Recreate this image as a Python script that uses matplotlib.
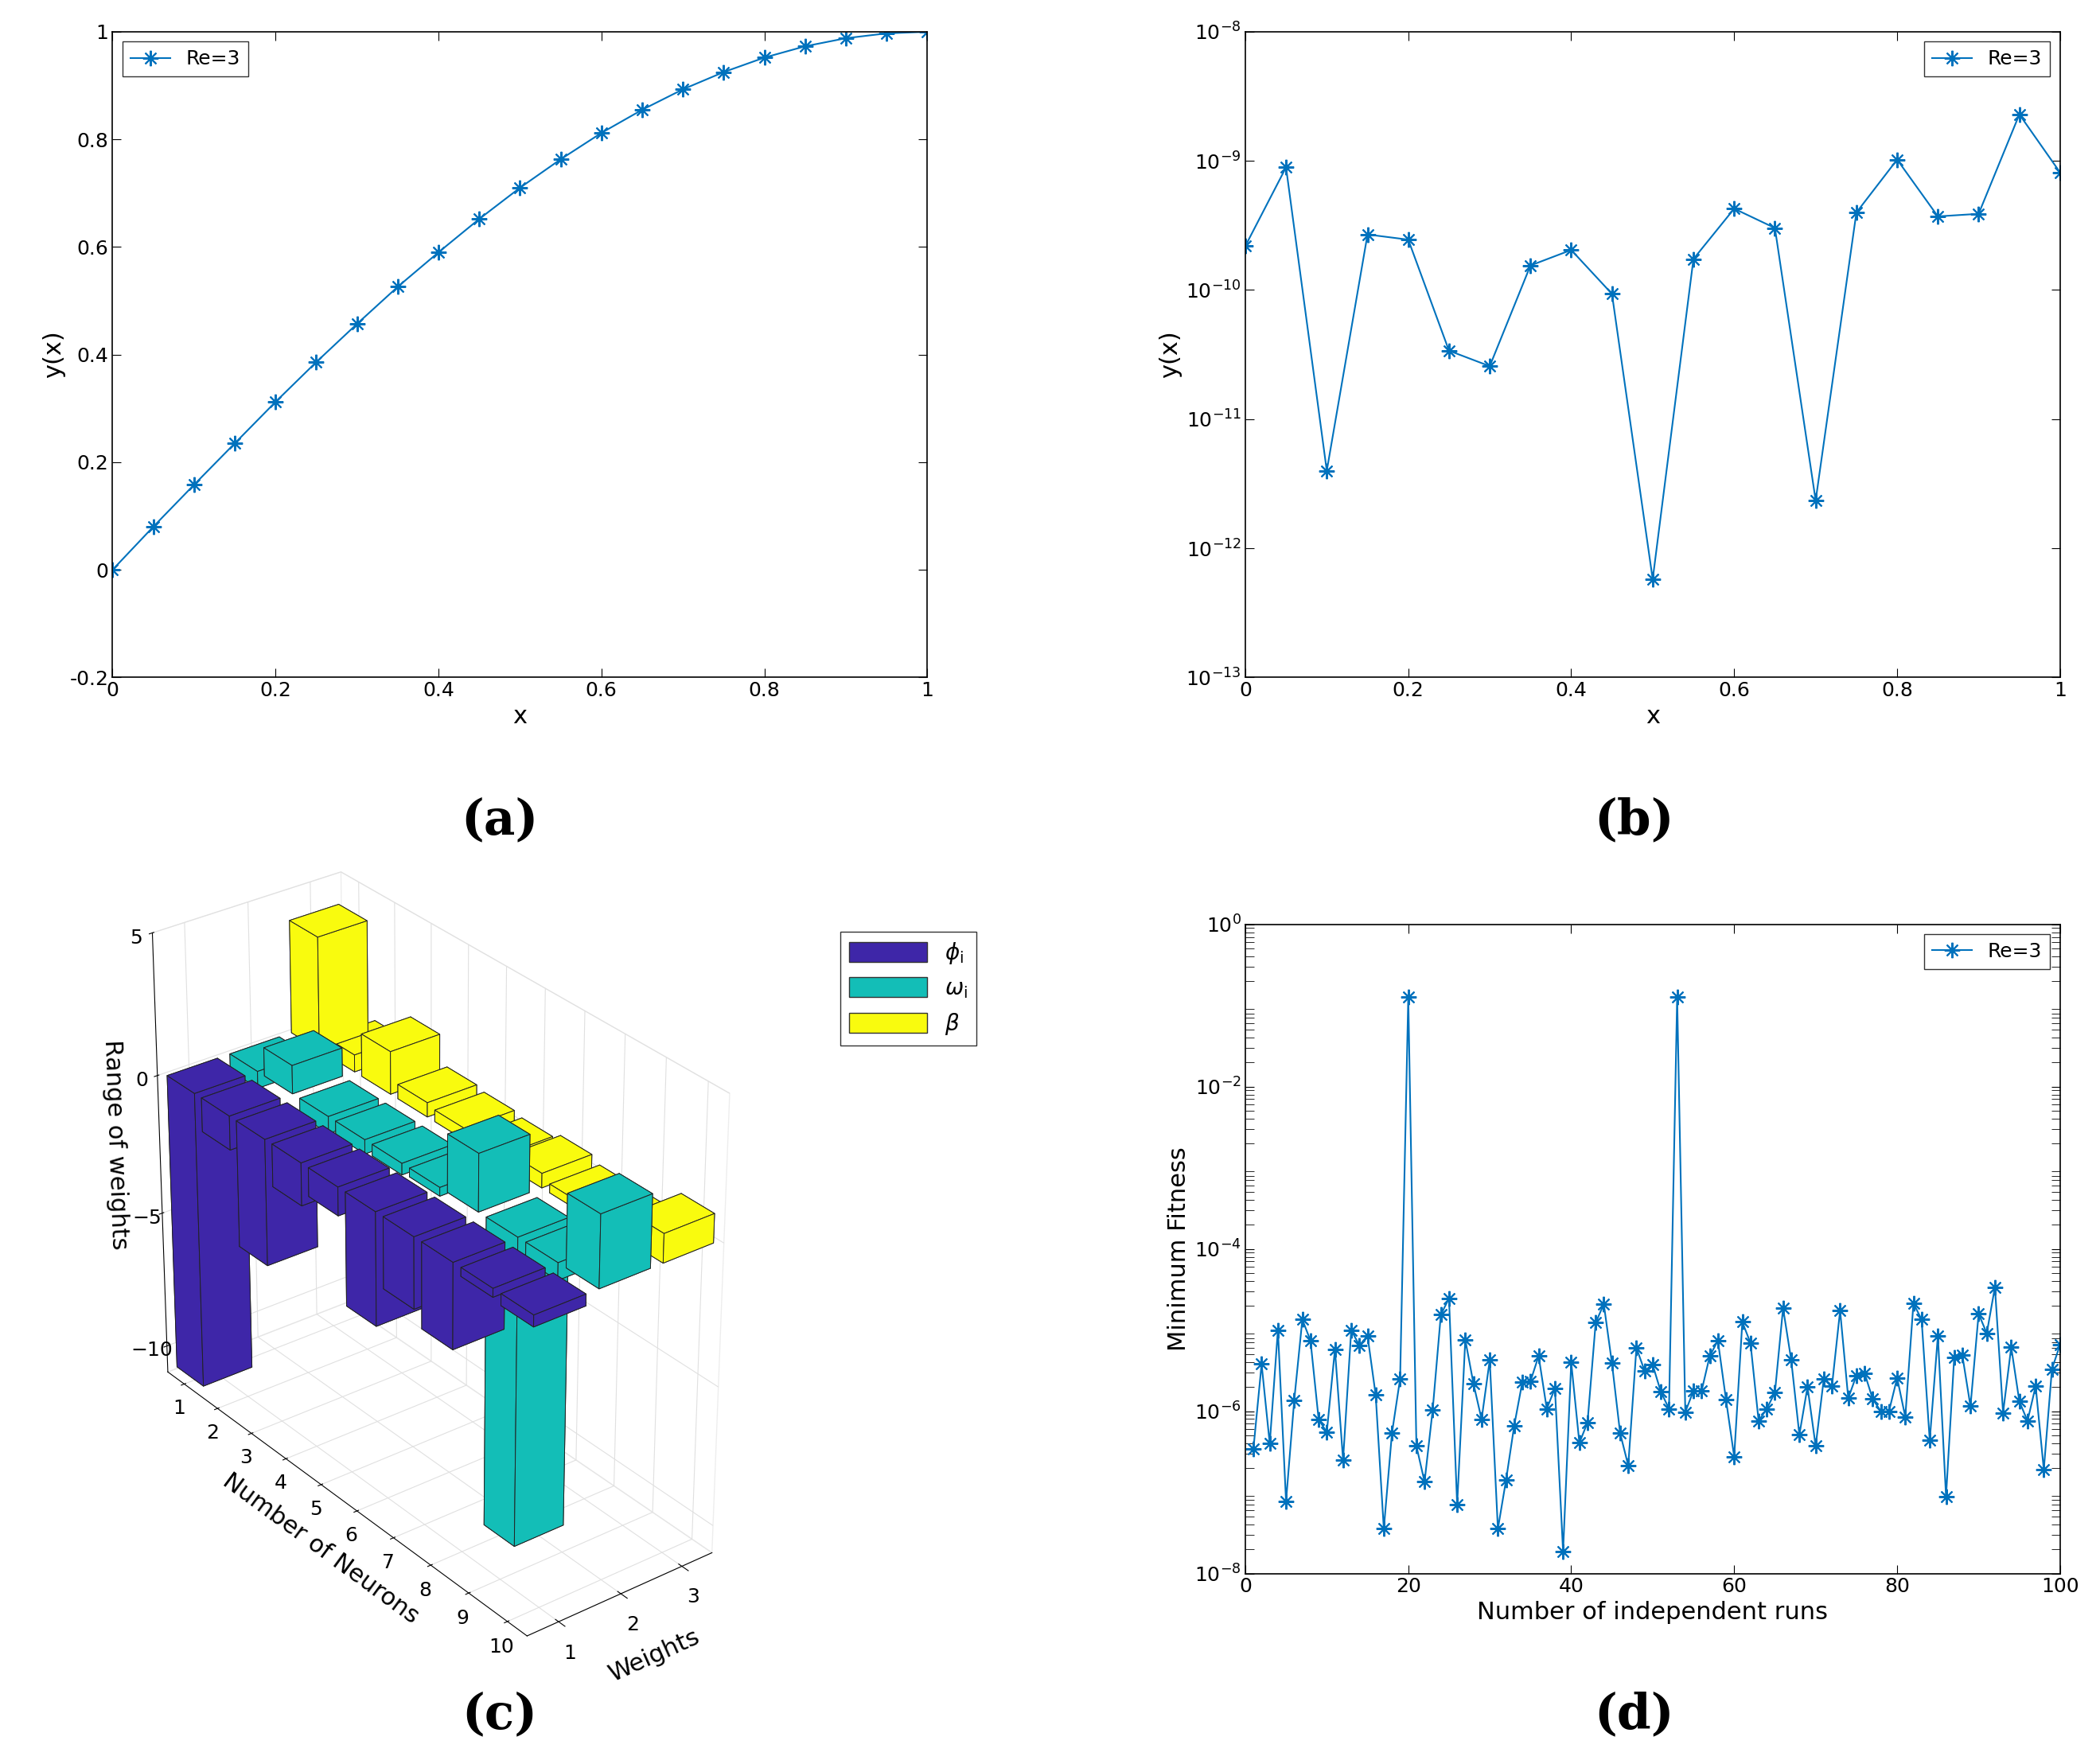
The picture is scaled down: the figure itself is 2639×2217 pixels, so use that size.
import matplotlib
matplotlib.use("Agg")
import matplotlib.pyplot as plt
import numpy as np
from matplotlib.patches import Patch

# ---------- data ----------
xa = [0, 0.05, 0.1, 0.15, 0.2, 0.25, 0.3, 0.35, 0.4, 0.45, 0.5, 0.55, 0.6, 0.65, 0.7, 0.75, 0.8, 0.85, 0.9, 0.95, 1.0]
ya = [0, 0.08, 0.158, 0.235, 0.312, 0.386, 0.457, 0.526, 0.59, 0.652, 0.71, 0.763, 0.812, 0.855, 0.893, 0.925, 0.952, 0.973, 0.988, 0.997, 1.0]
logb = [-9.66, -9.05, -11.4, -9.57, -9.61, -10.47, -10.59, -9.81, -9.69, -10.03, -12.24, -9.76, -9.37, -9.52, -11.63,
        -9.40, -8.99, -9.43, -9.41, -8.64, -9.09]
runs = list(range(1, 101))
logd = [-6.46, -5.42, -6.40, -5.00, -7.11, -5.87, -4.87, -5.13, -6.10, -6.26,
        -5.24, -6.60, -5.00, -5.19, -5.07, -5.80, -7.45, -6.27, -5.60, -0.90,
        -6.43, -6.87, -5.98, -4.81, -4.61, -7.15, -5.12, -5.66, -6.10, -5.37,
        -7.45, -6.85, -6.18, -5.64, -5.63, -5.32, -5.97, -5.72, -7.73, -5.40,
        -6.39, -6.14, -4.91, -4.68, -5.41, -6.27, -6.67, -5.22, -5.50, -5.43,
        -5.76, -5.97, -0.90, -6.01, -5.75, -5.75, -5.32, -5.13, -5.86, -6.56,
        -4.90, -5.16, -6.12, -5.97, -5.77, -4.73, -5.37, -6.29, -5.70, -6.43,
        -5.60, -5.69, -4.76, -5.84, -5.56, -5.53, -5.85, -6.00, -6.00, -5.59,
        -6.07, -4.67, -4.87, -6.36, -5.07, -7.05, -5.34, -5.31, -5.94, -4.80,
        -5.04, -4.47, -6.02, -5.21, -5.88, -6.12, -5.69, -6.72, -5.48, -5.18]
neurons = list(range(1, 11))
phi = [-10.8, -1.2, -4.5, -1.5, -1.0, -4.0, -2.5, -3.0, -0.3, -0.4]
omega = [-0.6, 1.0, -0.6, -0.5, -0.4, -0.3, 2.0, -11.0, -0.6, 2.5]
beta = [4.0, 0.6, 1.5, 0.5, 0.4, 0.3, 0.5, 0.3, 0.3, 1.0]

blue = "#0072BD"
fs = 18
ast = (8, 2, 0)
fig = plt.figure(figsize=(26.39, 22.17), dpi=100)

def style(ax):
    ax.tick_params(direction="in", labelsize=fs, length=8, top=True, right=True, which="both")
    for s in ax.spines.values():
        s.set_linewidth(1.2)

# (a)
ax = fig.add_axes([0.0536, 0.616, 0.388, 0.366])
ax.plot(xa, ya, "-", marker=ast, color=blue, lw=1.5, ms=14, mew=1.5, label="Re=3")
ax.set_xlim(0, 1); ax.set_ylim(-0.2, 1)
ax.set_xticks([0, 0.2, 0.4, 0.6, 0.8, 1]); ax.set_xticklabels(["0", "0.2", "0.4", "0.6", "0.8", "1"])
ax.set_yticks([-0.2, 0, 0.2, 0.4, 0.6, 0.8, 1]); ax.set_yticklabels(["-0.2", "0", "0.2", "0.4", "0.6", "0.8", "1"])
ax.set_xlabel("x", fontsize=fs + 4); ax.set_ylabel("y(x)", fontsize=fs + 4)
ax.legend(loc="upper left", fontsize=fs, fancybox=False, edgecolor="k")
style(ax)

# (b)
ax = fig.add_axes([0.593, 0.616, 0.388, 0.366])
ax.semilogy(xa, [10 ** v for v in logb], "-", marker=ast, color=blue, lw=1.5, ms=14, mew=1.5, label="Re=3")
ax.set_xlim(0, 1); ax.set_ylim(1e-13, 1e-8)
ax.set_xticks([0, 0.2, 0.4, 0.6, 0.8, 1]); ax.set_xticklabels(["0", "0.2", "0.4", "0.6", "0.8", "1"])
ax.set_xlabel("x", fontsize=fs + 4); ax.set_ylabel("y(x)", fontsize=fs + 4)
ax.legend(loc="upper right", fontsize=fs, fancybox=False, edgecolor="k")
ax.minorticks_off()
style(ax)

# (d)
ax = fig.add_axes([0.593, 0.108, 0.388, 0.368])
ax.semilogy(runs, [10 ** v for v in logd], "-", marker=ast, color=blue, lw=1.5, ms=14, mew=1.5, label="Re=3")
ax.set_xlim(0, 100); ax.set_ylim(1e-8, 1)
ax.set_yticks([1e-8, 1e-6, 1e-4, 1e-2, 1])
ax.set_xlabel("Number of independent runs", fontsize=fs + 4); ax.set_ylabel("Minimum Fitness", fontsize=fs + 4)
ax.legend(loc="upper right", fontsize=fs, fancybox=False, edgecolor="k")
style(ax)

# (c)
ax3 = fig.add_axes([0.0, 0.06, 0.40, 0.46], projection="3d")
w = 0.8
cols = ["#3E26A8", "#13BEB7", "#F9FB0E"]
for j, vals in enumerate([phi, omega, beta]):
    for i, v in enumerate(vals):
        ax3.bar3d(j + 1 - w / 2, neurons[i] - w / 2, min(0, v), w, w, abs(v),
                  color=cols[j], edgecolor="#222222", linewidth=0.7, shade=False)
ax3.set_xlim(0.5, 3.5); ax3.set_ylim(10.5, 0.5); ax3.set_zlim(-11, 5)
ax3.set_yticks(neurons); ax3.set_xticks([1, 2, 3]); ax3.set_zticks([-10, -5, 0, 5])
ax3.tick_params(labelsize=fs)
ax3.set_ylabel("Number of Neurons", fontsize=fs + 4, labelpad=18)
ax3.set_xlabel("Weights", fontsize=fs + 4, labelpad=12)
ax3.set_zlabel("Range of weights", fontsize=fs + 4, labelpad=12)
ax3.set_box_aspect((1.0, 2.6, 2.2))
ax3.view_init(elev=30, azim=-127.5)
for a in (ax3.xaxis, ax3.yaxis, ax3.zaxis):
    a.pane.fill = False
    a.pane.set_edgecolor("#dddddd")
    a._axinfo["grid"]["color"] = "#e0e0e0"
fig.legend(handles=[Patch(facecolor=c, edgecolor="#333333") for c in cols],
           labels=[r"$\phi_{\mathrm{i}}$", r"$\omega_{\mathrm{i}}$", r"$\beta$"],
           loc="upper left", bbox_to_anchor=(0.395, 0.478), fontsize=fs + 2,
           fancybox=False, edgecolor="k", handlelength=3.5, handleheight=1.0)

# panel letters
for x, y, t in [(0.238, 0.535, "(a)"), (0.778, 0.535, "(b)"), (0.238, 0.028, "(c)"), (0.778, 0.028, "(d)")]:
    fig.text(x, y, t, fontsize=44, fontweight="bold", family="DejaVu Serif", ha="center", va="center")

fig.savefig("out.png", dpi=100)
